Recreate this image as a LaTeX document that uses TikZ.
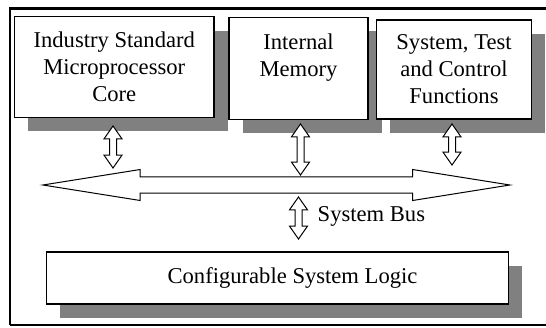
\documentclass[tikz,border=0pt]{standalone}
\usepackage{fontspec}
\setmainfont{Liberation Serif}
\usetikzlibrary{positioning, shapes.arrows, shadows}

\begin{document}
\begin{tikzpicture}[
        x=1pt, y=-1pt,
        txt/.style={font=\fontsize{22.6}{27}\selectfont},
        block/.style={rectangle, draw=black, fill=white, line width=1.1pt, align=center, inner sep=0pt, txt,
            drop shadow={shadow xshift=13.5pt, shadow yshift=-14pt, fill=black!50, opacity=1}},
        link/.style={double arrow, draw=black, fill=white, line width=1pt, rotate=90,
            minimum height=42pt, minimum width=17pt, inner xsep=0pt, inner ysep=3pt,
            double arrow head extend=5.5pt, double arrow tip angle=70},
        busarrow/.style={double arrow, draw=black, fill=white, line width=1pt,
            minimum height=467pt, minimum width=30pt, inner xsep=0pt, inner ysep=7.7pt,
            double arrow head extend=7.3pt, double arrow tip angle=18.1}
    ]
        \useasboundingbox (0,0) rectangle (546,327);

        % Frame (runs past the right edge)
        \draw[line width=2.8pt] (550,8.7) -- (10,8.7) -- (10,325.3);
        \draw[line width=2pt] (10,325.3) -- (550,325.3);

        % Top blocks
        \node[block, minimum width=199.5pt, minimum height=100.6pt] (core) at (114.25,67) {Industry Standard\\Microprocessor\\Core};
        \node[block, minimum width=139pt, minimum height=101.7pt] (mem) at (298.5,68.2) {Internal\\Memory\\~};
        \node[block, minimum width=155.4pt, minimum height=99pt] (stc) at (454,69.5) {System, Test\\and Control\\Functions};

        % System bus
        \node[busarrow] (bus) at (276.4,185) {};
        \node[link] (core-bus) at (113,147) {};
        \node[link, minimum height=51pt] (mem-bus) at (300.5,149.5) {};
        \node[link, minimum height=41pt] (stc-bus) at (452,144.5) {};
        \node[link, minimum height=42pt] (bus-logic) at (298.5,218) {};
        \node[txt, anchor=base west, inner sep=0pt] (buslabel) at (317.5,221.7) {System Bus};

        % Bottom block
        \node[block, minimum width=462pt, minimum height=52pt,
            label={[txt, xshift=14.8pt]center:Configurable System Logic}] (logic) at (277.7,278) {};
\end{tikzpicture}
\end{document}
